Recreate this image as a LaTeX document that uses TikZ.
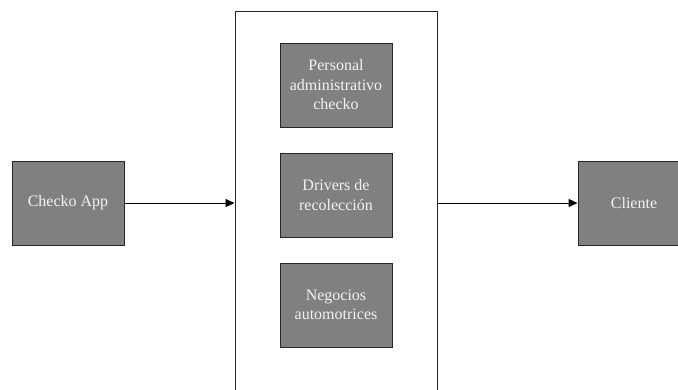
\documentclass[tikz,border=0pt]{standalone}
\usepackage{fontspec}
\setmainfont{Liberation Serif}
\usetikzlibrary{arrows.meta}
\tikzset{
  box/.style={draw=black!85, line width=0.9pt, fill=black!50, text=black!5,
    minimum width=112pt, minimum height=84pt, inner sep=2pt,
    align=center, font=\fontsize{16}{19.5}\selectfont},
  flow/.style={line width=0.9pt, -{Triangle[length=9pt,width=8pt]}},
  frame/.style={draw=black!85, line width=0.9pt}
}
\begin{document}
\begin{tikzpicture}[x=1pt,y=-1pt]
  \useasboundingbox (0,0) rectangle (678,389);
  \clip (0,0) rectangle (678,389);
  % container holding the three participants
  \node[frame, minimum width=202pt, minimum height=390pt, anchor=north west, inner sep=0pt] (grp) at (234.5,10.5) {};
  \node[box] (app) at (68,203) {Checko App};
  \node[box] (staff) at (336,85) {Personal\\administrativo\\checko};
  \node[box] (drv) at (336,195) {Drivers de\\recolección};
  \node[box] (biz) at (336,305) {Negocios\\automotrices};
  \node[box] (cli) at (634,203) {Cliente};
  \draw[flow] (app.east) -- (app.east -| grp.west);
  \draw[flow] (cli.west -| grp.east) -- (cli.west);
\end{tikzpicture}
\end{document}
